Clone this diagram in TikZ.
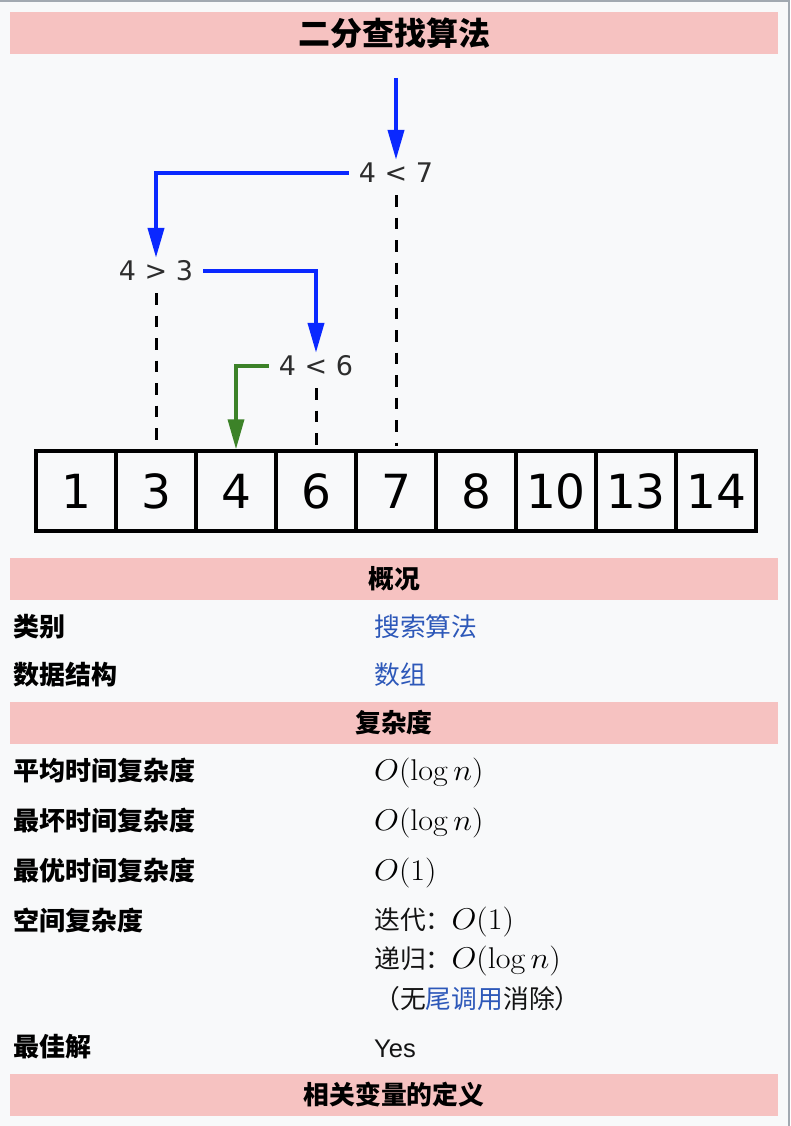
\RequirePackage{fix-cm}
\documentclass[tikz,border=0pt]{standalone}
\usepackage{fontspec}
\newfontfamily\cjk{Noto Sans CJK SC}
\newfontfamily\dvs{DejaVu Sans}
\newfontfamily\lsans{Liberation Sans}
\usetikzlibrary{arrows.meta}
\definecolor{bgc}{RGB}{248,249,250}
\definecolor{bordc}{RGB}{162,169,177}
\definecolor{pinkc}{RGB}{246,194,193}
\definecolor{bluec}{RGB}{10,40,255}
\definecolor{greenc}{RGB}{60,130,40}
\definecolor{linkc}{RGB}{45,88,185}
\definecolor{labgray}{RGB}{45,45,45}
\definecolor{txt}{RGB}{20,20,20}
\newcommand{\mth}[1]{\scalebox{1.07}[1]{#1}}
\tikzset{
  band/.style={fill=pinkc, minimum width=768pt, minimum height=42pt, inner sep=0pt,
    text=black, font=\cjk\bfseries\fontsize{25.8}{30}\selectfont,
    text height=22.7pt, text depth=3.1pt},
  cell/.style={draw=black, line width=3.5pt, minimum width=80pt, minimum height=80pt,
    inner sep=0pt, font=\dvs\fontsize{47}{56}\selectfont, text height=34.3pt, text depth=0pt},
  cmp/.style={font=\dvs\fontsize{27}{32}\selectfont, text=labgray, inner xsep=10pt,
    inner ysep=0pt, minimum height=26pt, text height=19.7pt, text depth=0pt},
  dashl/.style={draw=black, line width=3pt, dash pattern=on 11.5pt off 11pt,
    shorten <=9pt, shorten >=3pt},
  bluel/.style={draw=bluec, line width=4pt, -{Triangle[length=30pt,width=16pt]}},
  greenl/.style={draw=greenc, line width=3.6pt, -{Triangle[length=30pt,width=16pt]}},
  lab/.style={anchor=base west, inner sep=0pt, text=black,
    font=\cjk\bfseries\fontsize{26}{30}\selectfont},
  val/.style={anchor=base west, inner sep=0pt, text=txt,
    font=\cjk\fontsize{25.8}{30}\selectfont},
  mathv/.style={anchor=base west, inner sep=0pt, text=black,
    font=\fontsize{30}{36}\selectfont},
}
\begin{document}
\begin{tikzpicture}[x=1pt,y=-1pt]
\fill[bgc] (0,0) rectangle (790,1126);
\useasboundingbox (0,0) rectangle (790,1126);
\fill[bordc] (0,0) rectangle (790,2);
\fill[bordc] (788,0) rectangle (790,1126);

% title band
\node[band, font=\cjk\bfseries\fontsize{32}{36}\selectfont, text height=28.2pt, text depth=3.8pt]
  (title) at (394,33) {二分查找算法};

% array
\foreach \v [count=\i] in {1,3,4,6,7,8,10,13,14}
  \node[cell] (c\i) at ({76+80*(\i-1)},491) {\v};

% comparison labels
\node[cmp] (l47) at (396,173) {4 < 7};
\node[cmp] (l43) at (156,271) {4 > 3};
\node[cmp] (l46) at (316,366) {4 < 6};

% dashed drops
\draw[dashl] (l47.south) -- (c5.north);
\draw[dashl] (l43.south) -- (c2.north);
\draw[dashl] (l46.south) -- (c4.north);

% search path
\coordinate (start) at (396,78);
\draw[bluel] (start) -- (l47.north);
\draw[bluel] (l47.west) -| (l43.north);
\draw[bluel] (l43.east) -| (l46.north);
\draw[greenl] (l46.west) -| (c3.north);

% section bands
\node[band] (s1) at (394,579) {概况};
\node[band] (s2) at (394,723) {复杂度};
\node[band] (s3) at (394,1095) {相关变量的定义};

% rows
\node[lab] (k1) at (13,636) {类别};
\node[val, text=linkc] (v1) at (374,636) {搜索算法};
\node[lab] (k2) at (13,684.7) {数据结构};
\node[val, text=linkc] (v2) at (374,684.7) {数组};

\node[lab] (k3) at (13,780.5) {平均时间复杂度};
\node[mathv] (v3) at (374,780) {\mth{$O(\log n)$}};
\node[lab] (k4) at (13,830.5) {最坏时间复杂度};
\node[mathv] (v4) at (374,830) {\mth{$O(\log n)$}};
\node[lab] (k5) at (13,880.5) {最优时间复杂度};
\node[mathv] (v5) at (374,880) {\mth{$O(1)$}};
\node[lab] (k6) at (13,930.5) {空间复杂度};
\node[val] (v6) at (374,929.5) {迭代：{\fontsize{30}{36}\selectfont\color{black}\mth{$O(1)$}}};
\node[val] (v7) at (374,968) {递归：{\fontsize{30}{36}\selectfont\color{black}\mth{$O(\log n)$}}};
\node[val] (v8) at (374,1008) {（无\textcolor{linkc}{尾调用}消除）};
\node[lab] (k7) at (13,1056) {最佳解};
\node[anchor=base west, inner sep=0pt, text=txt, font=\lsans\fontsize{25.5}{30}\selectfont]
  (v9) at (374,1057) {Yes};
\end{tikzpicture}
\end{document}
